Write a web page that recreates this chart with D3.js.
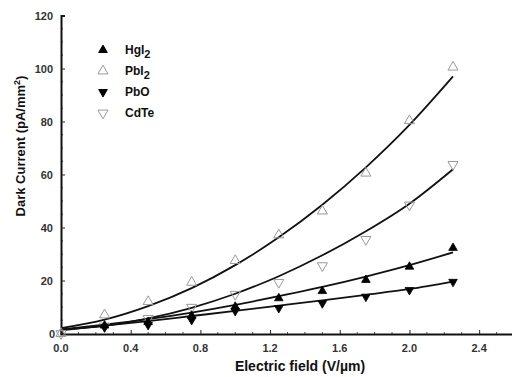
<!DOCTYPE html>
<html><head><meta charset="utf-8">
<script src="https://cdn.jsdelivr.net/npm/d3@7"></script>
<style>body{margin:0;background:#fff}svg{display:block}</style>
</head><body>
<svg id="c" width="512" height="377"></svg>
<script>
// x positions of measurements (V/µm)
const fields = [0, 0.25, 0.5, 0.75, 1.0, 1.25, 1.5, 1.75, 2.0, 2.25];
// measured dark current (pA/mm²), null = no point
const hgi2 = [null, 3.0, 4.3, 6.7, 10.1, 13.3, 16.0, 20.2, 25.2, 32.3];
const pbi2 = [0, 7.0, 12.0, 19.3, 27.5, 37.2, 46.2, 60.5, 80.3, 100.5];
const pbo  = [null, 2.3, 3.2, 5.1, 8.5, 9.6, 11.4, 13.9, 16.4, 19.5];
const cdte = [0, 2.8, 5.7, 9.9, 14.8, 19.3, 25.6, 35.5, 48.5, 63.8];
// fitted curves
const hgi2Fit = [1.5, 3.3, 5.4, 7.9, 10.8, 14.1, 17.6, 21.5, 25.8, 30.6];
const pbi2Fit = [2.0, 5.2, 10.3, 17.1, 25.8, 36.3, 48.6, 62.7, 78.7, 97.0];
const pboFit  = [1.2, 3.0, 4.7, 6.6, 8.5, 10.5, 12.5, 14.6, 16.8, 19.6];
const cdteFit = [1.5, 2.9, 5.7, 9.7, 15.0, 21.6, 29.5, 38.6, 49.0, 62.0];
const xTicks = [0, 0.4, 0.8, 1.2, 1.6, 2.0, 2.4];
const yTicks = [0, 20, 40, 60, 80, 100, 120];
const seriesNames = ["HgI2", "PbI2", "PbO", "CdTe"];

const svg = d3.select("#c");
const x = d3.scaleLinear().domain([0, 2.6]).range([61, 514]);
const y = d3.scaleLinear().domain([0, 120]).range([333.5, 15.5]);

const font = "'Liberation Sans', Arial, sans-serif";

// minor ticks
const minorY = d3.range(0, 121, 5).filter(v => v % 20 !== 0);
svg.append("g").selectAll("line").data(minorY).join("line")
  .attr("x1", 61).attr("x2", 63).attr("y1", d => y(d)).attr("y2", d => y(d))
  .attr("stroke", "#555").attr("stroke-width", 1);
const minorX = d3.range(0.1, 2.6, 0.1).filter(v => Math.abs(v * 10 % 4) > 0.01 && Math.abs(v*10%4-4)>0.01);
svg.append("g").selectAll("line").data(minorX).join("line")
  .attr("x1", d => x(d)).attr("x2", d => x(d)).attr("y1", 334).attr("y2", 332)
  .attr("stroke", "#555").attr("stroke-width", 1);

// y axis
const yAxis = d3.axisRight(y).tickValues(yTicks).tickSize(4).tickFormat("");
const gy = svg.append("g").attr("transform", "translate(61,0)").call(yAxis);
gy.select(".domain").attr("stroke", "#111").attr("stroke-width", 2);
gy.selectAll(".tick line").attr("stroke", "#222");
svg.append("g").selectAll("text").data(yTicks).join("text")
  .attr("x", d => d === 0 ? 55 : 53).attr("y", d => y(d) + 4)
  .attr("text-anchor", "end").attr("font-family", font).attr("font-weight", "bold")
  .attr("font-size", 11).attr("fill", "#333").text(d => d);

// x axis
const xAxis = d3.axisTop(x).tickValues(xTicks).tickSize(4).tickFormat("");
const gx = svg.append("g").attr("transform", "translate(0,334)").call(xAxis);
gx.select(".domain").attr("stroke", "#111").attr("stroke-width", 2);
gx.selectAll(".tick line").attr("stroke", "#222");
svg.append("g").selectAll("text").data(xTicks).join("text")
  .attr("x", d => x(d)).attr("y", 352)
  .attr("text-anchor", "middle").attr("font-family", font).attr("font-weight", "bold")
  .attr("font-size", 11).attr("fill", "#333").text(d => d.toFixed(1));

// axis titles
svg.append("text").attr("x", 300).attr("y", 371).attr("text-anchor", "middle")
  .attr("font-family", font).attr("font-weight", "bold").attr("font-size", 14).attr("fill", "#111")
  .text("Electric field (V/µm)");
const yt = svg.append("text").attr("transform", "translate(25,146) rotate(-90)")
  .attr("text-anchor", "middle").attr("font-family", font).attr("font-weight", "bold")
  .attr("font-size", 13).attr("fill", "#111");
yt.append("tspan").text("Dark Current (pA/mm");
yt.append("tspan").attr("dy", -5).attr("font-size", 9).text("2");
yt.append("tspan").attr("dy", 5).text(")");

// fit lines
const line = d3.line().x(d => x(d[0])).y(d => y(d[1])).curve(d3.curveMonotoneX);
[pbi2Fit, cdteFit, hgi2Fit, pboFit].forEach(fit => {
  svg.append("path").datum(fields.map((f, i) => [f, fit[i]]))
    .attr("d", line).attr("fill", "none").attr("stroke", "#111").attr("stroke-width", 1.8);
});

// markers
const upTri = d3.symbol().type(d3.symbolTriangle).size(32)();
const upTriOpen = d3.symbol().type(d3.symbolTriangle).size(44)();
function drawPts(vals, filled, down) {
  const pts = fields.map((f, i) => [f, vals[i]]).filter(d => d[1] !== null);
  svg.append("g").selectAll("path").data(pts).join("path")
    .attr("d", filled ? upTri : upTriOpen)
    .attr("transform", d => `translate(${x(d[0])},${y(d[1])})${down ? " rotate(180)" : ""}`)
    .attr("fill", filled ? "#000" : "none")
    .attr("stroke", filled ? "#000" : "#999").attr("stroke-width", filled ? 0.8 : 1);
}
drawPts(pbi2, false, false);
drawPts(cdte, false, true);
drawPts(hgi2, true, false);
drawPts(pbo, true, true);

// legend
const legend = [
  {name: "HgI", sub: "2", filled: true, down: false},
  {name: "PbI", sub: "2", filled: false, down: false},
  {name: "PbO", sub: "", filled: true, down: true},
  {name: "CdTe", sub: "", filled: false, down: true}
];
legend.forEach((l, i) => {
  const yy = 50 + i * 21;
  svg.append("path").attr("d", l.filled ? upTri : upTriOpen)
    .attr("transform", `translate(103,${yy})${l.down ? " rotate(180)" : ""}`)
    .attr("fill", l.filled ? "#000" : "none").attr("stroke", l.filled ? "#000" : "#999");
  const t = svg.append("text").attr("x", 125).attr("y", yy + 4)
    .attr("font-family", font).attr("font-weight", "bold").attr("font-size", 12).attr("fill", "#111");
  t.append("tspan").text(l.name);
  if (l.sub) t.append("tspan").attr("dy", 4).attr("font-size", 11).text(l.sub);
});
</script>
</body></html>
